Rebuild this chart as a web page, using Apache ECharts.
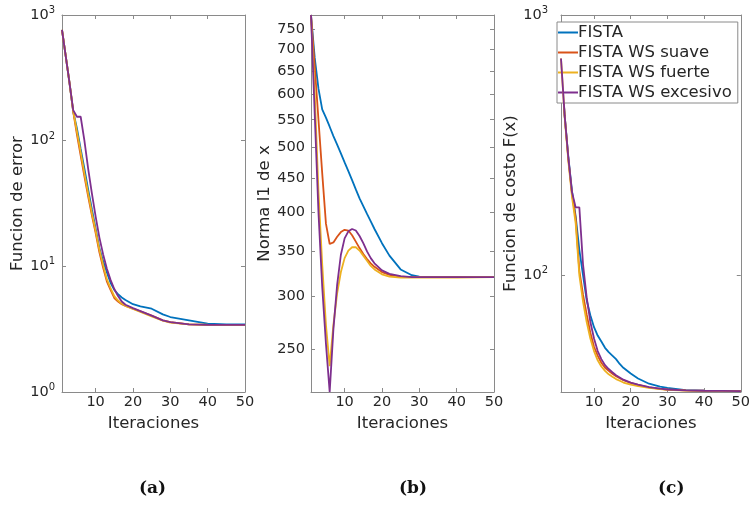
<!DOCTYPE html>
<html><head><meta charset="utf-8">
<script src="https://cdn.jsdelivr.net/npm/echarts@6/dist/echarts.min.js"></script>
<style>html,body{margin:0;padding:0;background:#fff}#c{width:753px;height:505px}</style>
</head><body><div id="c"></div>
<script>
// iterations at which values were read
const ITER = [1,2,3,4,5,6,7,8,9,10,11,12,13,14,15,16,17,18,20,22,25,28,30,35,40,45,50];
const NAMES = ['FISTA','FISTA WS suave','FISTA WS fuerte','FISTA WS excesivo'];
const COLORS = ['#0072BD','#D95319','#EDB120','#7E2F8E'];

// (a) Funcion de error
const A_FISTA    = [760,470,290,170,125,86,60,41,28.5,20,14,11,9.0,7.4,6.5,6.0,5.65,5.4,5.0,4.8,4.6,4.15,3.95,3.72,3.5,3.45,3.45];
const A_SUAVE    = [760,470,290,170,112,76,52,36,25.5,18.5,13.0,9.8,7.6,6.5,5.6,5.25,5.0,4.85,4.6,4.38,4.05,3.72,3.6,3.45,3.42,3.42,3.42];
const A_FUERTE   = [760,470,290,172,118,81,55,38,26.5,19.2,13.6,10.3,7.9,6.7,5.8,5.35,5.05,4.85,4.58,4.33,4.0,3.7,3.57,3.45,3.43,3.42,3.42];
const A_EXCESIVO = [760,470,290,175,155,155,100,60,38,25,17,12.5,9.6,7.8,6.6,5.8,5.25,4.95,4.65,4.4,4.05,3.72,3.6,3.45,3.42,3.42,3.42];

// (b) Norma l1 de x
const B_FISTA    = [788,680,612,570,554,537,520,505,490,475,461,447,433,420,409,398,388,378,360,345,329,322.5,321,320.5,320.5,320.5,320.5];
const B_SUAVE    = [788,660,550,458,385,359,361,368,374,377,376,370,362,354,347,341,336,332,326,323,321,320.5,320.5,320.5,320.5,320.5,320.5];
const B_FUERTE   = [788,600,430,335,272,236,272,303,326,342,351,355,355,351,345,339,333,329,323.5,321,320,320,320,320,320,320.3,320.5];
const B_EXCESIVO = [788,560,400,310,255,216,268,312,346,366,375,378,376,369,360,350,342,336,328,324,321.5,320.5,320.5,320.5,320.5,320.5,320.5];

// (c) Funcion de costo F(x)
const C_FISTA    = [680,410,285,210,168,125,100,80,70,63,58.5,55.5,52.5,50.5,49,47.5,45.5,44,41.8,40,38.2,37.2,36.8,36.1,35.9,35.85,35.8];
const C_SUAVE    = [680,410,280,205,165,104,84,70.5,60,53,49,46,44,42.8,41.7,40.8,40.1,39.4,38.5,37.8,37,36.5,36.3,36,35.9,35.85,35.8];
const C_FUERTE   = [680,405,275,200,158,100,79,66,57,51,47,44.5,42.8,41.5,40.6,39.8,39.2,38.6,37.9,37.4,36.8,36.4,36.2,35.95,35.85,35.8,35.8];
const C_EXCESIVO = [680,410,282,208,182,182,110,82,66,57,51,47.5,45,43.5,42.3,41.2,40.4,39.6,38.6,37.9,37.1,36.6,36.3,36,35.9,35.85,35.8];

const X_TICKS = [10,20,30,40,50];
const A_Y_TICKS = [1,10,100,1000];
const B_Y_TICKS = [250,300,350,400,450,500,550,600,650,700,750];
const C_Y_TICKS = [100,1000];
const Y_RANGES = [[1,1000],[216,788],[35.5,1000]];
const Y_NAMES = ['Funcion de error','Norma l1 de x','Funcion de costo F(x)'];
const X_NAME = 'Iteraciones';
const CAPTIONS = ['(a)','(b)','(c)'];

const PANELS = [
  [A_FISTA,A_SUAVE,A_FUERTE,A_EXCESIVO],
  [B_FISTA,B_SUAVE,B_FUERTE,B_EXCESIVO],
  [C_FISTA,C_SUAVE,C_FUERTE,C_EXCESIVO]
];

const FF = 'DejaVu Sans';
const AX = '#8a8a8a';
const TXT = '#262626';
const GRIDS = [
  {left:62, top:15, width:183, height:377},
  {left:311, top:15, width:183, height:377},
  {left:561, top:15, width:182, height:377}
];
const Y_GAP = [34, 37, 36];
const Y_MARGIN = [7, 6, 13];
const Y_TICK_SETS = [A_Y_TICKS, B_Y_TICKS, C_Y_TICKS];
const CAP_X = [153, 413, 672];

function pow10Label(v){ return '{b|10}{s|' + Math.round(Math.log10(v)) + '}'; }

const xAxis = [], yAxis = [], series = [];
for (let g = 0; g < 3; g++) {
  for (const top of [false, true]) {
    xAxis.push({
      type:'value', gridIndex:g, min:1, max:50, position: top ? 'top' : 'bottom',
      axisLine:{show:true, onZero:false, lineStyle:{color:AX, width:1}},
      axisTick:{show:true, inside:true, length:4, customValues:X_TICKS, lineStyle:{color:AX}},
      axisLabel:{show:!top, customValues:X_TICKS, margin:3, color:TXT, fontSize:14.5, fontFamily:FF},
      splitLine:{show:false},
      name: top ? '' : X_NAME, nameLocation:'middle', nameGap:19,
      nameTextStyle:{color:TXT, fontSize:16.5, fontFamily:FF}
    });
    const lab = {show:!top, customValues:Y_TICK_SETS[g], margin:Y_MARGIN[g], color:TXT, fontSize:14.5, fontFamily:FF};
    if (g !== 1) {
      lab.formatter = pow10Label;
      lab.rich = {
        b:{fontSize:14.5, color:TXT, fontFamily:FF},
        s:{fontSize:10, color:TXT, fontFamily:FF, padding:[0,0,9,0]}
      };
    }
    yAxis.push({
      type:'log', logBase:10, gridIndex:g, min:Y_RANGES[g][0], max:Y_RANGES[g][1],
      position: top ? 'right' : 'left',
      axisLine:{show:true, onZero:false, lineStyle:{color:AX, width:1}},
      axisTick:{show:true, inside:true, length:4, customValues:Y_TICK_SETS[g], lineStyle:{color:AX}},
      axisLabel:lab,
      minorTick:{show:false}, splitLine:{show:false},
      name: top ? '' : Y_NAMES[g], nameLocation:'middle', nameGap:Y_GAP[g],
      nameTextStyle:{color:TXT, fontSize:16.5, fontFamily:FF}
    });
  }
  PANELS[g].forEach((arr, k) => {
    series.push({
      name:NAMES[k], type:'line', xAxisIndex:g*2, yAxisIndex:g*2,
      data: ITER.map((x, i) => [x, arr[i]]),
      symbol:'none', showSymbol:false, smooth:false, clip:true,
      lineStyle:{color:COLORS[k], width:1.8}, itemStyle:{color:COLORS[k]},
      z: 2 + k
    });
  });
}

const chart = echarts.init(document.getElementById('c'), null, {renderer:'canvas'});
chart.setOption({
  backgroundColor:'#fff',
  animation:false,
  grid: GRIDS.map(g => Object.assign({containLabel:false, show:true, backgroundColor:'#fff', borderColor:AX, borderWidth:0}, g)),
  xAxis, yAxis, series,
  legend:{
    data:NAMES.map(n => ({name:n, icon:'rect'})), orient:'vertical', left:557, top:22, padding:[2,6,2,1],
    itemWidth:20, itemHeight:2, itemGap:3,
    backgroundColor:'#fff', borderColor:AX, borderWidth:1, borderRadius:0,
    textStyle:{fontSize:16.5, lineHeight:17, color:TXT, fontFamily:FF, padding:[0,0,0,-5]}
  },
  graphic: CAPTIONS.map((t, i) => ({
    type:'text', left: CAP_X[i] - 14, top: 480,
    style:{text:t, fontSize:17, fontWeight:'bold', fontFamily:'DejaVu Serif', fill:'#111'}
  }))
});
</script></body></html>
